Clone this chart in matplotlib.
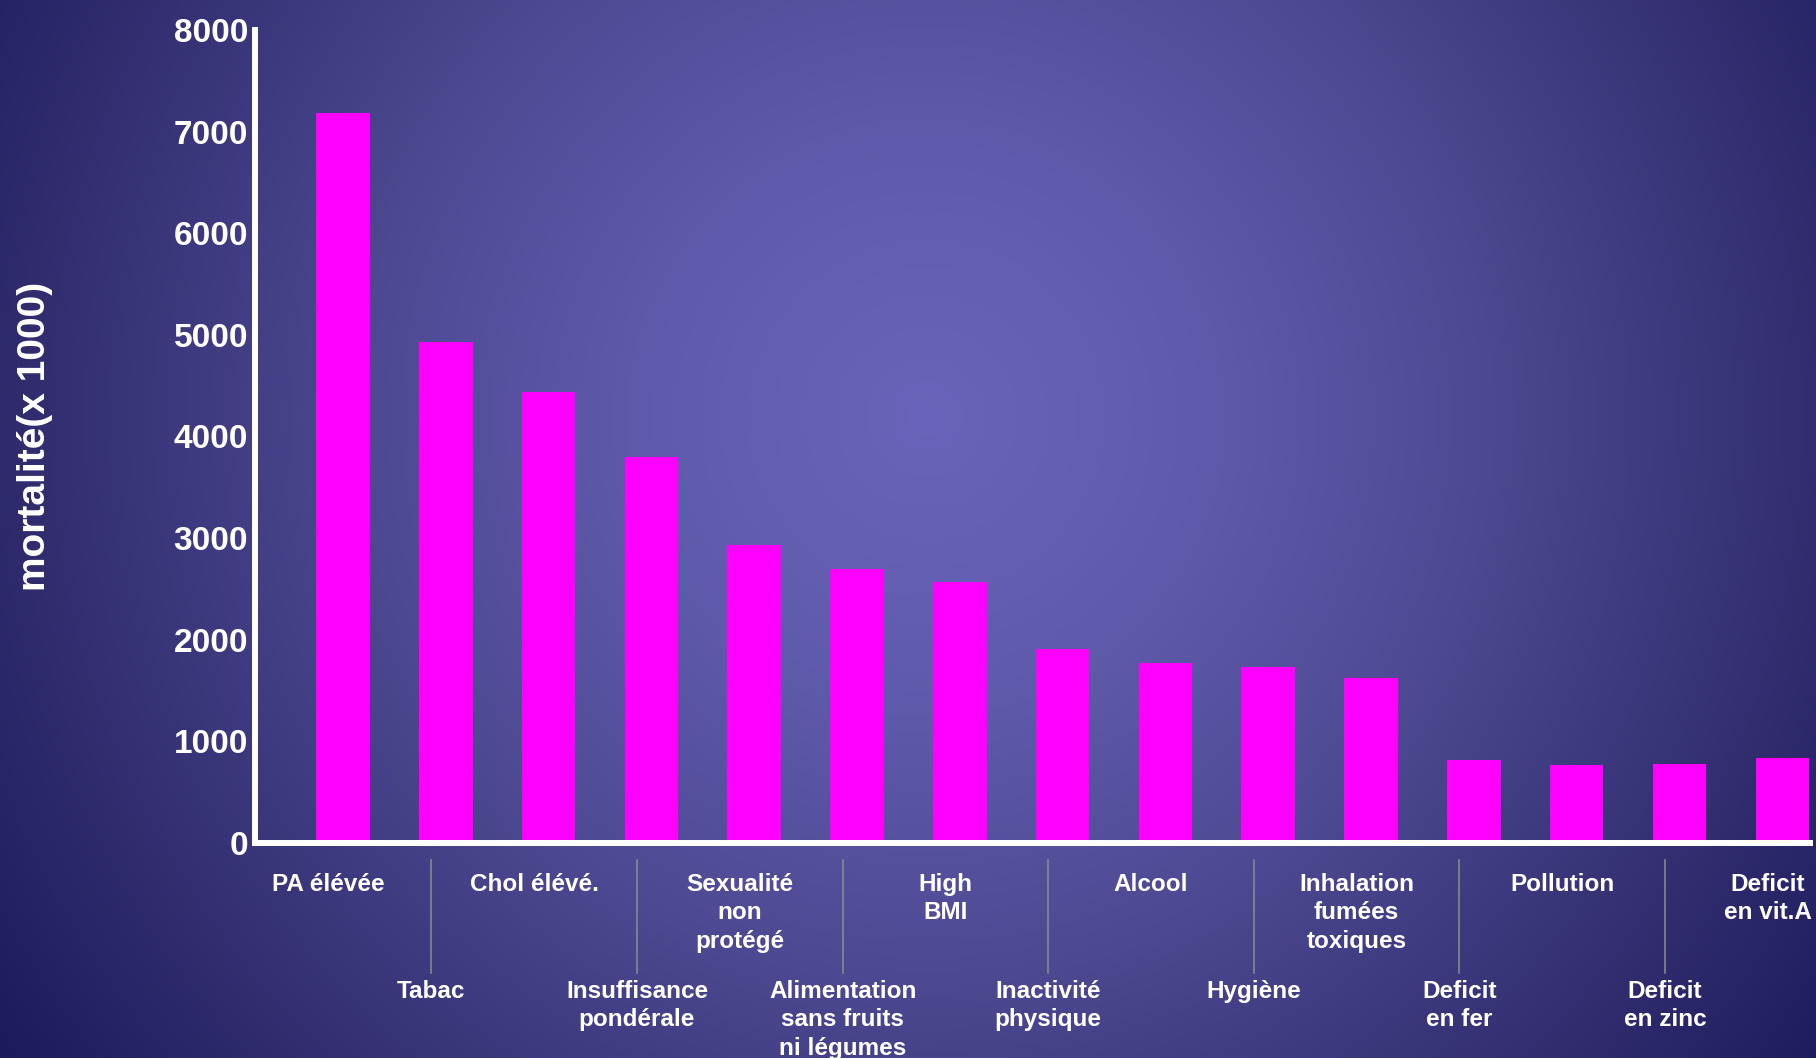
import numpy as np
import matplotlib
matplotlib.use("Agg")
import matplotlib.pyplot as plt
from matplotlib.transforms import blended_transform_factory

plt.rcParams['font.family'] = ['Liberation Sans', 'DejaVu Sans']
plt.rcParams['font.weight'] = 'bold'

categories = ["PA élévée", "Tabac", "Chol élévé.", "Insuffisance\npondérale",
              "Sexualité\nnon\nprotégé", "Alimentation\nsans fruits\nni légumes",
              "High\nBMI", "Inactivité\nphysique", "Alcool", "Hygiène",
              "Inhalation\nfumées\ntoxiques", "Deficit\nen fer", "Pollution",
              "Deficit\nen zinc", "Deficit\nen vit.A"]
values = [7180, 4930, 4440, 3800, 2930, 2700, 2570, 1910, 1770, 1730, 1620,
          820, 770, 780, 840]
yticks = [0, 1000, 2000, 3000, 4000, 5000, 6000, 7000, 8000]
ylabel = "mortalité(x 1000)"

W, H = 1816, 1058
fig = plt.figure(figsize=(W / 100, H / 100), dpi=100)

# radial gradient background
bg = fig.add_axes([0, 0, 1, 1], zorder=-10)
yy, xx = np.mgrid[0:H, 0:W]
r = np.sqrt((xx - 926.0) ** 2 + ((yy - 417.0) * 1.0) ** 2)
stops_r = [0, 300, 600, 900, 1200]
stops_c = np.array([[106, 100, 186], [94, 90, 170], [74, 70, 142],
                    [48, 44, 110], [20, 20, 88]]) / 255.0
img = np.zeros((H, W, 3))
for k in range(3):
    img[..., k] = np.interp(r, stops_r, stops_c[:, k])
bg.imshow(img, aspect='auto', extent=[0, 1, 0, 1], origin='upper')
bg.axis('off')

ax = fig.add_axes([255 / W, 1 - 843 / H, (1810 - 255) / W, (843 - 30) / H])
ax.set_facecolor('none')
x = np.arange(len(categories))
ax.bar(x, values, width=0.52, color='#ff00ff', zorder=2)
ax.set_xlim(-0.856, 14.27)
ax.set_ylim(0, 8000)
ax.set_yticks(yticks)
ax.set_yticklabels([str(v) for v in yticks], fontsize=24, color='white',
                   fontweight='bold')
ax.tick_params(axis='y', length=0, pad=5)
ax.set_xticks([])
for s in ['top', 'right']:
    ax.spines[s].set_visible(False)
for s in ['left', 'bottom']:
    ax.spines[s].set_color('white')
    ax.spines[s].set_linewidth(4.3)
    ax.spines[s].set_capstyle('projecting')
    ax.spines[s].set_zorder(3)

fig.text(35 / W, 1 - 436 / H, ylabel, rotation=90, ha='center', va='center',
         fontsize=28, color='white', fontweight='bold')

trans = blended_transform_factory(ax.transData, fig.transFigure)
for i, lab in enumerate(categories):
    xp = i - 0.14
    if i % 2 == 0:
        ax.text(xp, 1 - 873 / H, lab, transform=trans, ha='center', va='top',
                fontsize=17.5, color='white', fontweight='bold',
                linespacing=1.3, clip_on=False)
    else:
        ax.text(xp, 1 - 980 / H, lab, transform=trans, ha='center', va='top',
                fontsize=17.5, color='white', fontweight='bold',
                linespacing=1.3, clip_on=False)
        ax.plot([xp, xp], [1 - 860 / H, 1 - 973 / H], transform=trans,
                color='#8e8e8e', lw=1.1, clip_on=False)

fig.savefig('out.png', dpi=100)
